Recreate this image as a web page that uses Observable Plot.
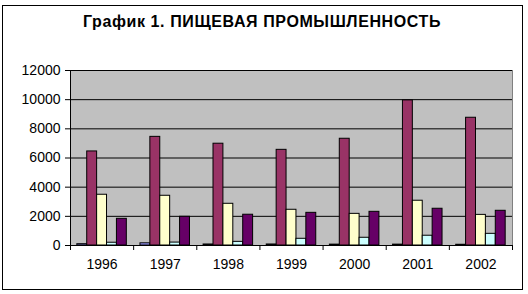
<!DOCTYPE html>
<html>
<head>
<meta charset="utf-8">
<script src="https://cdn.jsdelivr.net/npm/d3@7"></script>
<script src="https://cdn.jsdelivr.net/npm/@observablehq/plot@0.6"></script>
<style>
  html, body { margin: 0; padding: 0; background: #fff; }
  #wrap { position: relative; width: 528px; height: 294px; overflow: hidden; font-family: "Liberation Sans", Arial, sans-serif; }
  #border { position: absolute; left: 2px; top: 5px; width: 519px; height: 283px; border: 1px solid #000; box-sizing: content-box; pointer-events: none; }
  #title { position: absolute; left: 0; width: 524px; top: 13px; text-align: center; font-weight: bold; font-size: 16px; letter-spacing: 0.6px; color: #000; }
  #chart { position: absolute; left: 0; top: 0; }
</style>
</head>
<body>
<div id="wrap">
  <div id="chart"></div>
  <div id="border"></div>
  <div id="title">График 1. ПИЩЕВАЯ ПРОМЫШЛЕННОСТЬ</div>
</div>
<script>
const years = ["1996", "1997", "1998", "1999", "2000", "2001", "2002"];
const seriesNames = ["Ряд1", "Ряд2", "Ряд3", "Ряд4", "Ряд5"];
const series1 = [90, 150, 70, 70, 60, 60, 50];
const series2 = [6450, 7450, 6980, 6560, 7320, 9950, 8760];
const series3 = [3480, 3410, 2860, 2450, 2170, 3070, 2100];
const series4 = [190, 200, 250, 460, 530, 670, 800];
const series5 = [1830, 1970, 2110, 2240, 2310, 2520, 2380];
const seriesColors = ["#9999ff", "#993366", "#ffffcc", "#ccffff", "#660066"];
const yTicks = [0, 2000, 4000, 6000, 8000, 10000, 12000];

const seriesValues = [series1, series2, series3, series4, series5];
const data = years.flatMap((year, yi) =>
  seriesValues.map((vals, si) => ({ year, yi, si, series: seriesNames[si], value: vals[yi] }))
);

// layout of a cluster inside one category slot (fractions of a slot)
const PAD = 0.108;
const BW = (1 - 2 * PAD) / seriesNames.length;

const chart = Plot.plot({
  width: 528,
  height: 294,
  marginTop: 70,
  marginBottom: 49,
  marginLeft: 70,
  marginRight: 16,
  style: { fontFamily: "Liberation Sans, Arial, sans-serif", fontSize: "14px", background: "transparent", color: "#000" },
  x: { domain: [0, years.length], axis: null },
  y: { domain: [0, 12000], axis: null },
  color: { domain: seriesNames, range: seriesColors },
  marks: [
    Plot.frame({ fill: "#c0c0c0", stroke: "#808080" }),
    Plot.ruleY(yTicks, { stroke: "#000", strokeWidth: 1 }),
    Plot.rect(data, {
      x1: d => d.yi + PAD + d.si * BW,
      x2: d => d.yi + PAD + (d.si + 1) * BW,
      y1: 0,
      y2: "value",
      fill: "series",
      stroke: "#000",
      strokeWidth: 1
    }),
    Plot.ruleX([0], { stroke: "#000" }),
    Plot.ruleY([0], { stroke: "#000" }),
    Plot.axisY({ ticks: yTicks, tickSize: 5, tickPadding: 5, tickFormat: d3.format("d"), stroke: "#000", label: null }),
    Plot.axisX({ ticks: d3.range(0, years.length + 1), tickSize: 5, tickFormat: () => "", stroke: "#000", label: null }),
    Plot.axisX({ ticks: years.map((_, i) => i + 0.5), tickSize: 0, tickPadding: 14, tickFormat: t => years[Math.floor(t)], label: null })
  ]
});
document.getElementById("chart").appendChild(chart);
</script>
</body>
</html>
